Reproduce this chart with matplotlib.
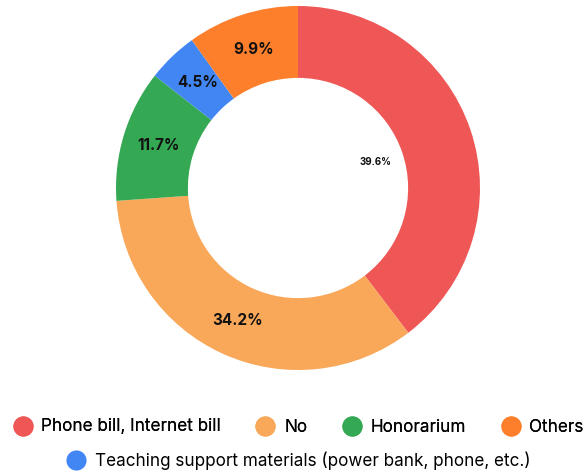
import numpy as np
import matplotlib.pyplot as plt
from matplotlib.lines import Line2D

plt.rcParams['font.family'] = ['Inter', 'DejaVu Sans']

# slices in clockwise order starting at 12 o'clock
labels = ['Phone bill, Internet bill', 'No', 'Honorarium',
          'Teaching support materials (power bank, phone, etc.)', 'Others']
values = [39.6, 34.2, 11.7, 4.5, 9.9]
colors = ['#ef5757', '#f9a85a', '#35a853', '#4286f4', '#fd7f2c']

# legend order
legend_row1 = ['Phone bill, Internet bill', 'No', 'Honorarium', 'Others']
legend_row2 = ['Teaching support materials (power bank, phone, etc.)']

fig = plt.figure(figsize=(5.87, 4.76), dpi=100)
ax = fig.add_axes([0, 0, 1, 1])

wedges, _ = ax.pie(values, colors=colors, startangle=90, counterclock=False,
                   radius=1.0, wedgeprops=dict(width=0.395, linewidth=0))

# pie() resets the limits, so place the donut afterwards
ax.set_xlim(-298 / 182, (587 - 298) / 182)
ax.set_ylim(-(476 - 188) / 182, 188 / 182)
ax.set_aspect('equal')
ax.axis('off')

# percentage labels inside the ring
for w, v in zip(wedges, values):
    ang = np.deg2rad((w.theta1 + w.theta2) / 2)
    if v > 35:
        r, fs = 0.45, 7
    else:
        r, fs = 0.80, 11
    ax.text(r * np.cos(ang), r * np.sin(ang), f'{v}%', ha='center', va='center',
            fontsize=fs, fontweight='bold', color='#111111')

def handles_for(names):
    return [Line2D([], [], marker='o', linestyle='', markersize=14.5,
                   markerfacecolor=colors[labels.index(n)], markeredgewidth=0)
            for n in names]

leg1 = fig.legend(handles_for(legend_row1), legend_row1, loc='center',
                  bbox_to_anchor=(298 / 587, 1 - 427 / 476), ncol=4, frameon=False,
                  fontsize=12.3, handletextpad=0.5, columnspacing=2.0, handlelength=1.2)
leg2 = fig.legend(handles_for(legend_row2), legend_row2, loc='center',
                  bbox_to_anchor=(298 / 587, 1 - 461 / 476), ncol=1, frameon=False,
                  fontsize=12.3, handletextpad=0.5, handlelength=1.2)
fig.add_artist(leg1)

fig.savefig('out.png', dpi=100)
